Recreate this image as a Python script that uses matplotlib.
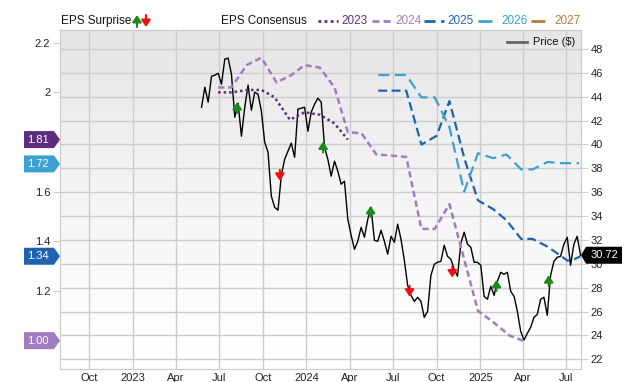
import numpy as np
import pandas as pd
import matplotlib
matplotlib.use("Agg")
import matplotlib.pyplot as plt
from matplotlib.patches import Polygon, FancyArrowPatch
from matplotlib.transforms import IdentityTransform
from matplotlib.colors import LinearSegmentedColormap

plt.rcParams['font.family'] = ['Liberation Sans', 'DejaVu Sans']

# ---------------- data ----------------
price_start = "2023-05-25"
price = [43.12, 44.80, 43.54, 45.72, 45.80, 45.97, 45.05, 47.15, 47.23, 45.89,
         42.29, 43.46, 40.69, 43.12, 44.97, 42.87, 44.38, 44.21, 42.79, 40.19,
         39.35, 35.66, 34.74, 34.49, 37.42, 38.76, 39.44, 40.11, 38.93, 42.96,
         43.04, 43.12, 41.11, 42.71, 43.38, 43.88, 43.54, 39.77, 38.76, 37.34,
         38.60, 37.76, 36.67, 36.92, 33.74, 32.39, 31.22, 31.89, 33.06, 32.23,
         33.74, 34.74, 31.97, 31.89, 32.81, 31.89, 30.80, 32.31, 31.81, 33.32,
         32.06, 30.30, 28.20, 27.36, 26.86, 27.20, 26.86, 25.52, 26.02, 29.04,
         29.96, 30.13, 30.21, 31.56, 30.63, 30.38, 29.54, 28.96, 31.72, 32.65,
         31.64, 31.39, 30.13, 30.13, 29.88, 27.28, 27.03, 28.12, 27.36, 28.54,
         29.29, 29.12, 29.29, 27.70, 27.28, 26.02, 24.35, 23.62, 24.18, 24.68,
         25.52, 25.77, 27.03, 27.20, 25.69, 29.04, 30.21, 30.55, 30.63, 31.64,
         32.23, 29.88, 31.64, 32.31, 30.72]

eps2023_dates = ["2023-06-29", "2023-07-27", "2023-08-31", "2023-09-28", "2023-10-26",
                 "2023-11-27", "2023-12-28", "2024-01-29", "2024-02-29", "2024-03-28"]
eps2023 = [2.00, 2.00, 2.01, 2.01, 1.98, 1.89, 1.92, 1.91, 1.875, 1.81]

eps2024_dates = ["2023-06-29", "2023-07-27", "2023-08-28", "2023-09-28", "2023-10-30",
                 "2023-11-30", "2023-12-28", "2024-01-29", "2024-02-29", "2024-03-28",
                 "2024-04-26", "2024-05-27", "2024-07-01", "2024-07-29", "2024-08-30",
                 "2024-09-27", "2024-10-28", "2024-12-27", "2025-01-28", "2025-03-04",
                 "2025-04-01"]
eps2024 = [2.02, 2.02, 2.11, 2.14, 2.04, 2.07, 2.11, 2.10, 2.02, 1.84,
           1.835, 1.75, 1.745, 1.74, 1.45, 1.45, 1.55, 1.12, 1.075, 1.02, 1.00]

eps2025_dates = ["2024-05-31", "2024-07-29", "2024-08-30", "2024-10-01", "2024-10-28",
                 "2024-11-29", "2024-12-27", "2025-01-28", "2025-02-25", "2025-03-28",
                 "2025-04-21", "2025-05-23", "2025-06-17", "2025-07-04", "2025-07-18",
                 "2025-07-31"]
eps2025 = [2.007, 2.007, 1.79, 1.825, 1.965, 1.73, 1.565, 1.53, 1.485, 1.41,
           1.41, 1.378, 1.345, 1.322, 1.328, 1.34]

eps2026_dates = ["2024-05-31", "2024-07-29", "2024-08-30", "2024-09-27", "2024-10-28",
                 "2024-11-28", "2024-12-27", "2025-01-28", "2025-02-25", "2025-03-28",
                 "2025-04-21", "2025-05-23", "2025-06-17", "2025-07-28"]
eps2026 = [2.07, 2.07, 1.98, 1.98, 1.86, 1.60, 1.755, 1.735, 1.75, 1.69,
           1.69, 1.72, 1.715, 1.715]

surprise_dates = ["2023-08-08", "2023-11-06", "2024-02-05", "2024-05-15",
                  "2024-08-05", "2024-11-03", "2025-02-04", "2025-05-25"]
surprise_price = [43.1, 37.4, 39.8, 34.4, 27.7, 29.3, 28.2, 28.6]
surprise_dir = ["up", "down", "up", "up", "down", "down", "up", "up"]

badge_values = [1.81, 1.72, 1.34, 1.00]
badge_labels = ["1.81", "1.72", "1.34", "1.00"]
last_price_label = "30.72"

xtick_dates = ["2022-10-01", "2023-01-01", "2023-04-01", "2023-07-01", "2023-10-01",
               "2024-01-01", "2024-04-01", "2024-07-01", "2024-10-01", "2025-01-01",
               "2025-04-01", "2025-07-01"]
xtick_labels = ["Oct", "2023", "Apr", "Jul", "Oct", "2024", "Apr", "Jul", "Oct",
                "2025", "Apr", "Jul"]
price_ticks = list(range(22, 49, 2))
eps_ticks = [1.0, 1.2, 1.4, 1.6, 1.8, 2.0, 2.2]
eps_tick_labels = ["", "1.2", "1.4", "1.6", "", "2", "2.2"]

legend_years = ["2023", "2024", "2025", "2026", "2027"]

# ---------------- styles ----------------
c2023 = "#5c2d7e"
c2024 = "#a27cbf"
c2025 = "#1f63b0"
c2026 = "#3ba0d2"
c2027 = "#b0803a"
year_colors = [c2023, c2024, c2025, c2026, c2027]
year_styles = [(0, (1, 1.2)), (0, (2.5, 1.5)), (0, (4, 2)), (0, (5, 2.5)), (0, (5, 2.5))]
badge_colors = [c2023, c2026, c2025, c2024]
grid_c = "#cccccc"
green = "#1a8a1a"
red = "#ee1111"
arrow_style = "-|>,head_width=0.3,head_length=0.45"

W, H = 640, 382
fig = plt.figure(figsize=(W / 100, H / 100), dpi=100)
ax = fig.add_axes([60 / W, 13 / H, 521 / W, 339 / H])
ax2 = ax.twinx()

xmin, xmax = pd.Timestamp("2022-07-31"), pd.Timestamp("2025-08-01")

# background gradient
grad = np.linspace(0, 1, 256).reshape(-1, 1) ** 1.3
cmap = LinearSegmentedColormap.from_list("bg", ["#ffffff", "#e6e6e6"])
ax.imshow(grad, extent=[0, 1, 0, 1], transform=ax.transAxes, aspect="auto",
          cmap=cmap, origin="lower", zorder=0)

# price axis (primary, ticks on right)
pdates = pd.date_range(price_start, periods=len(price), freq="7D")
ax.plot(pdates, price, color="black", lw=1.0, zorder=3)
ax.set_xlim(xmin, xmax)
ax.set_ylim(21.19, 49.59)
ax.yaxis.tick_right()
ax.set_yticks(price_ticks)
ax.set_yticklabels([str(t) for t in price_ticks])
ax.set_xticks(pd.to_datetime(xtick_dates))
ax.set_xticklabels(xtick_labels)
ax.grid(True, color=grid_c, lw=1.0, zorder=1)
ax.set_axisbelow(True)
ax.tick_params(axis="y", which="both", right=True, left=False, labelright=True,
               labelleft=False, length=5, color=grid_c, labelsize=8, pad=2,
               labelcolor="#222222")
ax.tick_params(axis="x", length=0, labelsize=8, pad=3, labelcolor="#222222")
for s in ax.spines.values():
    s.set_color(grid_c)

# surprise arrows
for d, p, dr in zip(surprise_dates, surprise_price, surprise_dir):
    dd = pd.Timestamp(d)
    if dr == "up":
        ax.annotate("", xy=(dd, p + 0.45), xytext=(0, -11), textcoords="offset pixels",
                    arrowprops=dict(arrowstyle=arrow_style, color=green, lw=1.5,
                                    mutation_scale=9, shrinkA=0, shrinkB=0), zorder=6)
    else:
        ax.annotate("", xy=(dd, p - 0.45), xytext=(0, 11), textcoords="offset pixels",
                    arrowprops=dict(arrowstyle=arrow_style, color=red, lw=1.5,
                                    mutation_scale=9, shrinkA=0, shrinkB=0), zorder=6)

# EPS axis (overlay, ticks on left)
ax2.yaxis.tick_left()
ax2.set_ylim(0.8858, 2.2514)
ax2.set_xlim(xmin, xmax)
series = [(eps2023_dates, eps2023), (eps2024_dates, eps2024),
          (eps2025_dates, eps2025), (eps2026_dates, eps2026)]
for i, (ds, vs) in enumerate(series):
    ax2.plot(pd.to_datetime(ds), vs, color=year_colors[i], ls=year_styles[i],
             lw=1.8 if i < 2 else 1.6, zorder=4)
ax2.set_yticks(eps_ticks)
ax2.set_yticklabels(eps_tick_labels)
ax2.tick_params(axis="y", left=True, right=False, labelleft=True, labelright=False,
                length=5, color=grid_c, labelsize=8, pad=2, labelcolor="#222222")
for s in ax2.spines.values():
    s.set_color(grid_c)

# badges on left
fig.canvas.draw()
x_ax0 = ax.transAxes.transform((0, 0))[0]
x_ax1 = ax.transAxes.transform((1, 0))[0]
hh = 8.5
for v, lab, c in zip(badge_values, badge_labels, badge_colors):
    yc = ax2.transData.transform((0, v))[1]
    if lab == "1.72":
        yc -= 2
    verts = [(x_ax0 - 36, yc - hh), (x_ax0 - 6, yc - hh), (x_ax0, yc),
             (x_ax0 - 6, yc + hh), (x_ax0 - 36, yc + hh)]
    fig.add_artist(Polygon(verts, closed=True, facecolor=c, edgecolor="none",
                           transform=IdentityTransform(), zorder=10))
    fig.text((x_ax0 - 22) / W, yc / H, lab, color="white", fontsize=8,
             ha="center", va="center", zorder=11)

# last price badge
yc = ax.transData.transform((0, price[-1]))[1]
verts = [(x_ax1, yc), (x_ax1 + 5, yc - hh), (x_ax1 + 41, yc - hh),
         (x_ax1 + 41, yc + hh), (x_ax1 + 5, yc + hh)]
fig.add_artist(Polygon(verts, closed=True, facecolor="black", edgecolor="none",
                       transform=IdentityTransform(), zorder=10))
fig.text((x_ax1 + 23) / W, yc / H, last_price_label, color="white", fontsize=8,
         ha="center", va="center", zorder=11)

# top legend
ly = (H - 21) / H
fig.text(61 / W, ly, "EPS Surprise", fontsize=8.5, ha="left", va="center", color="#111111")
fig.add_artist(FancyArrowPatch((137, H - 27), (137, H - 15), transform=IdentityTransform(),
                               arrowstyle=arrow_style, mutation_scale=9, color=green,
                               lw=1.5, shrinkA=0, shrinkB=0))
fig.add_artist(FancyArrowPatch((146, H - 15), (146, H - 27), transform=IdentityTransform(),
                               arrowstyle=arrow_style, mutation_scale=9, color=red,
                               lw=1.5, shrinkA=0, shrinkB=0))
fig.text(221 / W, ly, "EPS Consensus", fontsize=8.5, ha="left", va="center", color="#111111")
line_x = [318, 372, 424, 478, 531]
for i, yr in enumerate(legend_years):
    x0 = line_x[i]
    fig.add_artist(plt.Line2D([x0 / W, (x0 + 20) / W], [ly, ly], transform=fig.transFigure,
                              color=year_colors[i], ls=year_styles[i], lw=2))
    fig.text((x0 + 23) / W, ly, yr, fontsize=8.5, ha="left", va="center",
             color=year_colors[i])

# price legend inside plot
py = (H - 42) / H
fig.add_artist(plt.Line2D([507 / W, 527 / W], [py, py], transform=fig.transFigure,
                          color="#666666", lw=2))
fig.text(533 / W, py, "Price ($)", fontsize=8, ha="left", va="center", color="#111111")

fig.savefig("out.png", dpi=100)
